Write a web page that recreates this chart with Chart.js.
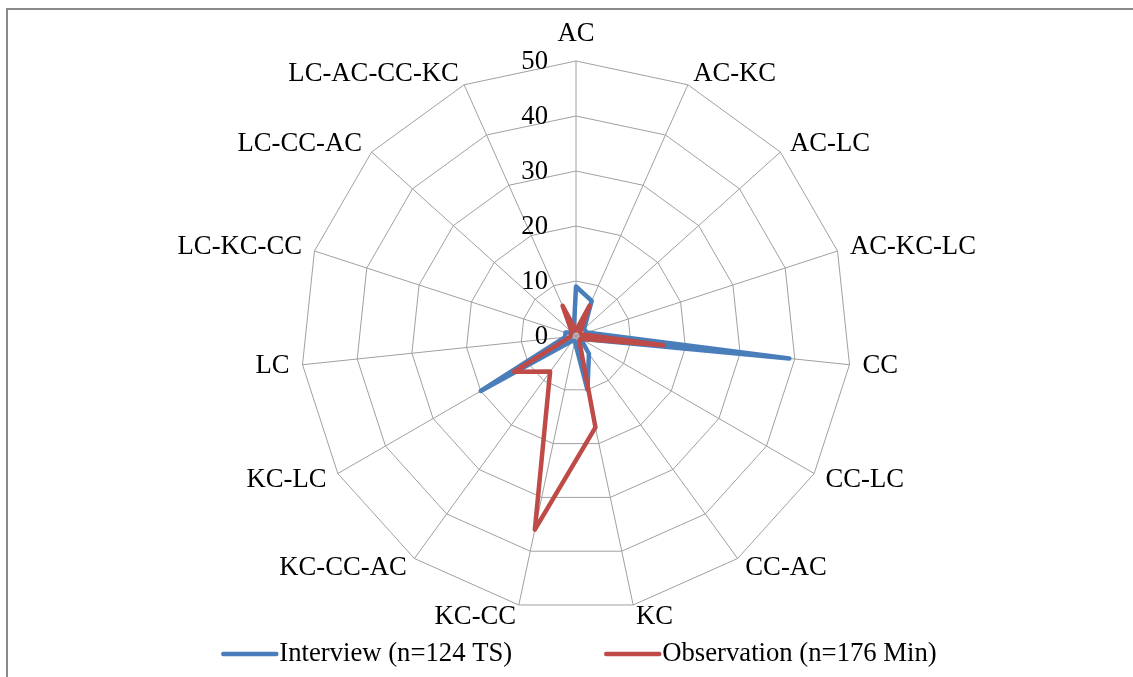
<!DOCTYPE html>
<html>
<head>
<meta charset="utf-8">
<script src="https://cdn.jsdelivr.net/npm/chart.js@4.4.0/dist/chart.umd.min.js"></script>
<style>
  html, body { margin: 0; padding: 0; background: #fff; }
  #wrap { position: relative; width: 1133px; height: 677px; overflow: hidden; background: #fff; }
  #frame { position: absolute; left: 6px; top: 8px; width: 1300px; height: 800px;
           border-top: 2px solid #8a8a8a; border-left: 2px solid #8a8a8a; }
  #c { position: absolute; left: 0; top: 0; }
</style>
</head>
<body>
<div id="wrap">
  <div id="frame"></div>
  <canvas id="c" width="1133" height="677"></canvas>
</div>
<script>
// Coding categories, clockwise from the top
const categories = ['AC', 'AC-KC', 'AC-LC', 'AC-KC-LC', 'CC', 'CC-LC', 'CC-AC', 'KC',
                    'KC-CC', 'KC-CC-AC', 'KC-LC', 'LC', 'LC-KC-CC', 'LC-CC-AC', 'LC-AC-CC-KC'];

// Shares per category (%)
const interview   = [9, 7, 2, 2, 39, 1, 4, 10, 1, 1, 20, 2, 2, 1, 1];
const observation = [1, 6, 1, 1, 16, 1, 1, 17, 36, 8, 13, 1, 1, 1, 6];

const seriesNames = ['Interview (n=124 TS)', 'Observation (n=176 Min)'];
const seriesColors = ['#4a7ebb', '#be4b48'];

// Radial axis ticks
const tickValues = [0, 10, 20, 30, 40, 50];

const FONT = '26.7px "Liberation Serif", "Times New Roman", serif';

// Category names, tick numbers and the legend, drawn with the radial scale's geometry
const annotate = {
  id: 'annotate',
  afterDraw(chart) {
    const ctx = chart.ctx;
    const scale = chart.scales.r;
    ctx.save();
    ctx.font = FONT;
    ctx.fillStyle = '#000';
    ctx.textBaseline = 'middle';

    categories.forEach((label, i) => {
      const p = scale.getPointPositionForValue(i, scale.max);
      const t = p.angle + Math.PI / 2;
      const s = Math.sin(t), c = Math.cos(t);
      let x = p.x + 13 * s;
      let y = p.y - 12 * c;
      if (Math.abs(s) < 0.01) {
        ctx.textAlign = 'center';
        y = c > 0 ? p.y - 27 : p.y + 27;
      } else {
        ctx.textAlign = s > 0 ? 'left' : 'right';
      }
      ctx.fillText(label, x, y);
    });

    ctx.textAlign = 'right';
    tickValues.forEach(v => {
      const d = scale.getDistanceFromCenterForValue(v);
      ctx.fillText(String(v), scale.xCenter - 28, scale.yCenter - d + 1);
    });

    // Legend row
    const lineLen = 53, gapText = 3, gapItem = 94, ly = 654;
    const widths = seriesNames.map(n => ctx.measureText(n).width);
    const total = 2 * (lineLen + gapText) + widths[0] + widths[1] + gapItem;
    let x = 580 - total / 2;
    ctx.textAlign = 'left';
    seriesNames.forEach((name, i) => {
      ctx.strokeStyle = seriesColors[i];
      ctx.lineWidth = 4.5;
      ctx.lineCap = 'round';
      ctx.beginPath();
      ctx.moveTo(x, ly);
      ctx.lineTo(x + lineLen, ly);
      ctx.stroke();
      x += lineLen + gapText;
      ctx.fillText(name, x, ly);
      x += widths[i] + gapItem;
    });
    ctx.restore();
  }
};

new Chart(document.getElementById('c'), {
  type: 'radar',
  data: {
    labels: categories,
    datasets: [
      { label: seriesNames[0], data: interview, borderColor: seriesColors[0], order: 1 },
      { label: seriesNames[1], data: observation, borderColor: seriesColors[1], order: 0 }
    ]
  },
  options: {
    responsive: false,
    animation: false,
    devicePixelRatio: 1,
    layout: { padding: { left: 301, right: 282, top: 61, bottom: 66 } },
    elements: {
      line: { borderWidth: 4.5, fill: false, tension: 0, borderJoinStyle: 'round', borderCapStyle: 'round',
              backgroundColor: 'rgba(0,0,0,0)' },
      point: { radius: 0, hoverRadius: 0 }
    },
    plugins: { legend: { display: false }, tooltip: { enabled: false } },
    scales: {
      r: {
        min: 0, max: 50,
        ticks: { stepSize: 10, display: false },
        pointLabels: { display: false },
        grid: { color: '#a0a0a0', lineWidth: 1 },
        angleLines: { color: '#a0a0a0', lineWidth: 1 }
      }
    }
  },
  plugins: [annotate]
});
</script>
</body>
</html>
